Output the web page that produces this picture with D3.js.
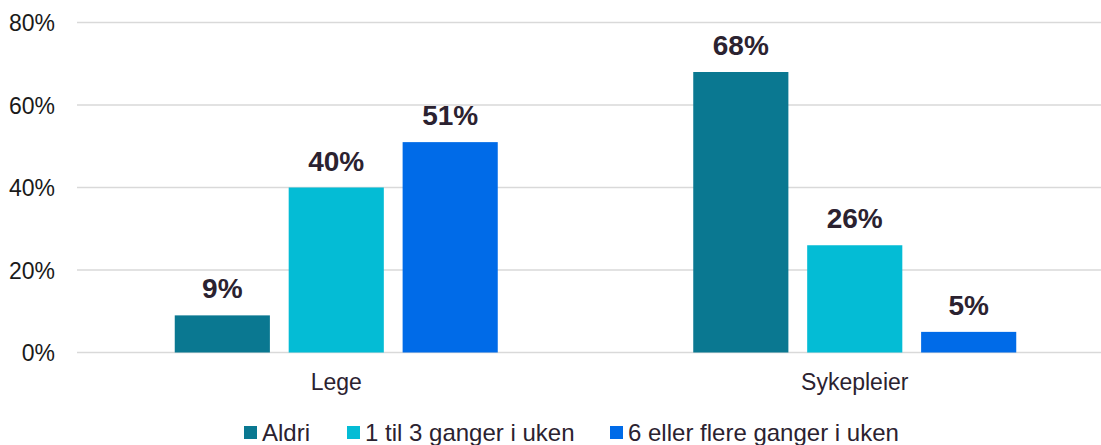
<!DOCTYPE html>
<html><head><meta charset="utf-8">
<script src="https://cdn.jsdelivr.net/npm/d3@7"></script>
<style>body{margin:0;background:#fff}svg{display:block;font-family:"Liberation Sans",Arial,sans-serif}</style>
</head><body><svg id="c" width="1101" height="445"></svg>
<script>
const categories = ["Lege", "Sykepleier"];
const seriesNames = ["Aldri", "1 til 3 ganger i uken", "6 eller flere ganger i uken"];
const aldri = [9, 68];
const enTilTre = [40, 26];
const seksEllerFlere = [51, 5];
const yTicks = [0, 20, 40, 60, 80];
const colors = ["#0a7891", "#04bcd5", "#006be8"];

(function () {
const seriesVals = [aldri, enTilTre, seksEllerFlere];
const svg = d3.select("#c");
const pLeft = 77, pRight = 1114, pTop = 22.5, pBottom = 352.5;
const x = d3.scaleBand().domain(categories).range([pLeft, pRight]).paddingInner(0).paddingOuter(0);
const y = d3.scaleLinear().domain([0, 80]).range([pBottom, pTop]);
const groupW = 323;
const xs = d3.scaleBand().domain(seriesNames).range([0, groupW]).paddingInner(0.165).paddingOuter(0);
const txt = "#2b2230";

svg.append("g").selectAll("line").data(yTicks).join("line")
  .attr("x1", pLeft).attr("x2", pRight)
  .attr("y1", d => y(d)).attr("y2", d => y(d))
  .attr("stroke", "#d9d9d9").attr("stroke-width", 1.5);

const yAxis = d3.axisLeft(y).tickValues(yTicks).tickFormat(d => d + "%").tickSize(0).tickPadding(0);
const ya = svg.append("g").attr("transform", `translate(55,0)`).call(yAxis);
ya.select(".domain").remove();
ya.selectAll("text").attr("font-size", 23).attr("fill", "#1a1a1a").attr("font-family", "Liberation Sans, Arial, sans-serif").attr("dy", "0.35em");

const rows = [];
categories.forEach((c, i) => seriesNames.forEach((s, j) => rows.push({c, s, j, v: seriesVals[j][i]})));
const gx = c => x(c) + (x.bandwidth() - groupW) / 2;
svg.append("g").selectAll("rect").data(rows).join("rect")
  .attr("x", d => gx(d.c) + xs(d.s))
  .attr("width", xs.bandwidth())
  .attr("y", d => y(d.v))
  .attr("height", d => y(0) - y(d.v))
  .attr("fill", d => colors[d.j]);

svg.append("g").selectAll("text").data(rows).join("text")
  .attr("x", d => gx(d.c) + xs(d.s) + xs.bandwidth() / 2)
  .attr("y", d => y(d.v) - 17)
  .attr("text-anchor", "middle")
  .attr("font-size", 28).attr("font-weight", "bold").attr("fill", txt)
  .text(d => d.v + "%");

const xAxis = d3.axisBottom(x).tickSize(0).tickPadding(0);
const xa = svg.append("g").attr("transform", `translate(0,${pBottom})`).call(xAxis);
xa.select(".domain").remove();
xa.selectAll("text").attr("font-size", 23).attr("fill", txt).attr("font-family", "Liberation Sans, Arial, sans-serif").attr("y", 37.5).attr("dy", 0);

const legX = [244, 347, 610];
const lg = svg.append("g").selectAll("g").data(seriesNames).join("g")
  .attr("transform", (d, i) => `translate(${legX[i]},0)`);
lg.append("rect").attr("x", 0).attr("y", 426).attr("width", 13).attr("height", 13).attr("fill", (d, i) => colors[i]);
lg.append("text").attr("x", 18).attr("y", 440.5).attr("font-size", 24).attr("fill", txt).text(d => d);
})();
</script></body></html>
